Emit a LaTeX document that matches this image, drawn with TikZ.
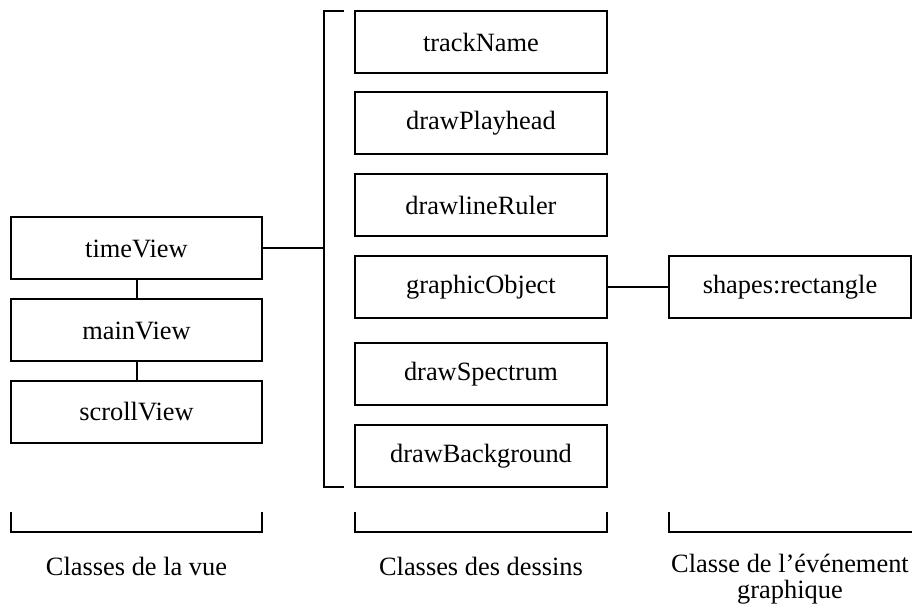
\documentclass[tikz,border=0pt]{standalone}
\usepackage{fontspec}
\setmainfont{Liberation Serif}
\usetikzlibrary{positioning}

\tikzset{classbox/.style={draw, line width=1pt, inner sep=0pt, minimum width=125.5pt, minimum height=31pt, font=\fontsize{13.2}{15}\selectfont},
  grouplabel/.style={align=center, inner sep=0pt, font=\fontsize{13.2}{13}\selectfont}}

\begin{document}
\begin{tikzpicture}[x=0.5pt, y=0.5pt, line width=1pt]
\useasboundingbox (0,0) rectangle (912,609);
% classes de la vue
\node[classbox] (tv) at (136.5,360.5) {timeView};
\node[classbox] (mv) at (136.5,278.5) {mainView};
\node[classbox] (sv) at (136.5,197) {scrollView};
\draw (tv) -- (mv);
\draw (mv) -- (sv);
% classes des dessins
\node[classbox, minimum width=126pt] (tn) at (481,567) {trackName};
\node[classbox, minimum width=126pt] (ph) at (481,486) {drawPlayhead};
\node[classbox, minimum width=126pt] (lr) at (481,403.5) {drawlineRuler};
\node[classbox, minimum width=126pt] (go) at (481,322) {graphicObject};
\node[classbox, minimum width=126pt] (sp) at (481,234.5) {drawSpectrum};
\node[classbox, minimum width=126pt] (bg) at (481,152.5) {drawBackground};
\draw (344,598) -- (324,598) -- (324,122) -- (344,122);
\coordinate (br) at (324,360.5);
\draw (tv.east) -- (br);
% evenement graphique
\node[classbox, minimum width=121pt] (sr) at (790,322) {shapes:rectangle};
\draw (go.east) -- (sr.west);
% accolades du bas
\draw (11,97) -- (11,77) -- (262,77) -- (262,97);
\draw (355,97) -- (355,77) -- (607,77) -- (607,97);
\draw (669,97) -- (669,77) -- (912,77);
\node[grouplabel, anchor=base] (l1) at (136.5,33) {Classes de la vue};
\node[grouplabel, anchor=base] (l2) at (481,33) {Classes des dessins};
\node[grouplabel, anchor=north] (l3) at (790,56) {Classe de l’événement\\graphique};
\end{tikzpicture}
\end{document}
